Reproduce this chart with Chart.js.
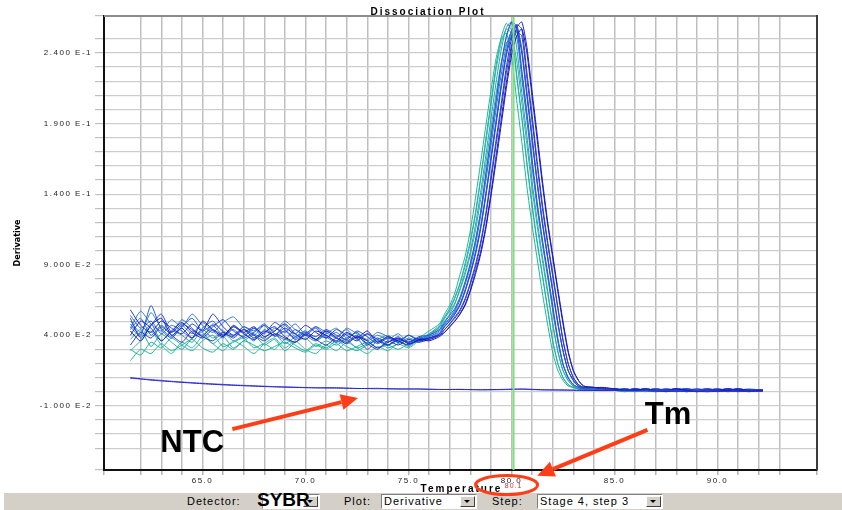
<!DOCTYPE html>
<html>
<head>
<meta charset="utf-8">
<title>Dissociation Plot</title>
<script src="https://cdn.jsdelivr.net/npm/chart.js@4.4.1/dist/chart.umd.min.js"></script>
<style>
  html, body { margin: 0; padding: 0; background: #fff; }
  #wrap { position: relative; width: 842px; height: 510px; overflow: hidden; }
  #bar { position: absolute; left: 4px; top: 493px; width: 838px; height: 17px; background: #d4d0c8; }
  .lbl { position: absolute; top: 495px; font: 11px "Liberation Sans", Arial, sans-serif; letter-spacing: 1px; color: #000; line-height: 13px; }
  .combo { position: absolute; top: 494px; height: 13px; background: #fff; border: 1px solid; border-color: #808080 #fff #fff #808080; }
  .combo .txt { position: absolute; left: 2px; top: 0; font: 11px "Liberation Sans", Arial, sans-serif; letter-spacing: 1px; line-height: 13px; color: #000; white-space: nowrap; }
  .combo .btn { position: absolute; right: 1px; top: 1px; width: 15px; height: 11px; box-sizing: border-box; background: #d4d0c8; border: 1px solid; border-color: #fff #404040 #404040 #fff; }
  .combo .btn:after { content: ""; position: absolute; left: 3px; top: 3px; border-left: 3px solid transparent; border-right: 3px solid transparent; border-top: 3px solid #000; }
  .sybr { position: absolute; left: 257px; top: 490px; font: bold 19px "Liberation Sans", Arial, sans-serif; color: #000; line-height: 20px; text-shadow: 0 0 1px #fff; }
  #plot { position: absolute; left: 0; top: 0; z-index: 2; }
</style>
</head>
<body>
<div id="wrap">
  <div id="bar"></div>
  <span class="lbl" style="left:187px">Detector:</span>
  <div class="combo" style="left:262px;width:56px"><span class="btn"></span></div>
  <span class="sybr">SYBR</span>
  <span class="lbl" style="left:344px">Plot:</span>
  <div class="combo" style="left:381px;width:94px"><span class="txt">Derivative</span><span class="btn"></span></div>
  <span class="lbl" style="left:492px">Step:</span>
  <div class="combo" style="left:537px;width:124px"><span class="txt">Stage 4, step 3</span><span class="btn"></span></div>
  <canvas id="plot" width="842" height="510"></canvas>
</div>
<script>
// temperature steps (deg C) of the melt read-out
const BASE_TEMPS = [61.5, 62, 62.5, 63, 63.5, 64, 64.5, 65, 65.5, 66, 66.5, 67, 67.5, 68, 68.5, 69, 69.5, 70, 70.5, 71, 71.5, 72, 72.5, 73, 73.5, 74, 74.5, 75, 75.5, 76, 76.5];
const MELT_TEMPS = [76.75, 77, 77.25, 77.5, 77.75, 78, 78.25, 78.5, 78.75, 79, 79.25, 79.5, 79.75, 80, 80.25, 80.5, 80.75, 81, 81.25, 81.5, 81.75, 82, 82.25, 82.5, 82.75, 83, 83.25, 83.5];
const TAIL_TEMPS = [84, 84.5, 85, 85.5, 86, 86.5, 87, 87.5, 88, 88.5, 89, 89.5, 90, 90.5, 91, 91.5, 92.2];
const NTC_TEMPS = [61.5, 62.5, 63.5, 64.5, 65.5, 66.5, 67.5, 68.5, 69.5, 70.5, 71.5, 72.5, 73.5, 74.5, 75.5, 76.5, 77.5, 78.5, 79.5, 80.5, 81.5, 82.5, 83.5, 84.5, 85.5, 86.5, 87.5, 88.5, 89.5, 90.5, 91.5, 92.2];

// -dF/dT per well, in units of 1e-3 (baseline / melt / tail)
const WELL_1 = [22, 30, 27, 34, 29, 33, 37, 31, 28, 34, 30, 36, 33, 29, 32, 35, 31, 28, 33, 30, 34, 29, 32, 35, 31, 33, 30, 34, 38, 43, 48,
  55, 61, 70, 83, 96, 114, 137, 162, 188, 213, 236, 250, 254, 238, 207, 177, 145, 118, 94, 70, 48, 28, 15, 8, 4, 3, 2, 2,
  2, 1, 2, 2, 1, 1, 2, 1, 0, 1, 1, 2, 1, 1, 0, 1, 1];
const WELL_2 = [37, 44, 32, 41, 35, 30, 38, 42, 34, 39, 31, 36, 40, 33, 37, 29, 35, 38, 32, 36, 33, 37, 31, 34, 38, 33, 36, 32, 37, 41, 47,
  53, 59, 67, 77, 91, 107, 127, 151, 179, 205, 231, 251, 261, 256, 225, 195, 162, 133, 106, 83, 59, 36, 20, 10, 5, 3, 2, 1,
  1, 2, 1, 1, 2, 1, 0, 1, 2, 1, 1, 0, 1, 2, 1, 1, 1];
const WELL_3 = [46, 39, 48, 36, 43, 40, 35, 44, 38, 42, 36, 40, 45, 37, 41, 34, 39, 43, 36, 40, 35, 38, 42, 34, 37, 40, 35, 38, 36, 41, 45,
  50, 55, 62, 73, 85, 99, 118, 141, 167, 193, 219, 242, 258, 262, 244, 212, 181, 149, 121, 96, 72, 48, 29, 15, 8, 4, 2, 2,
  2, 2, 1, 0, 1, 2, 1, 2, 1, 0, 1, 1, 2, 1, 1, 0, 1];
const WELL_4 = [30, 26, 35, 31, 38, 33, 29, 36, 40, 32, 35, 38, 31, 34, 30, 37, 33, 29, 34, 31, 36, 32, 29, 33, 36, 31, 34, 37, 35, 40, 46,
  52, 57, 63, 72, 83, 97, 114, 136, 161, 186, 211, 233, 247, 251, 235, 205, 175, 144, 117, 93, 70, 48, 28, 15, 8, 4, 3, 2,
  1, 1, 2, 1, 1, 0, 1, 1, 2, 2, 1, 0, 1, 1, 2, 1, 1];
const WELL_5 = [50, 42, 56, 45, 39, 47, 41, 49, 43, 38, 46, 42, 36, 44, 40, 47, 39, 43, 37, 41, 45, 38, 42, 36, 40, 37, 41, 35, 38, 40, 44,
  48, 52, 58, 66, 77, 90, 107, 127, 153, 179, 205, 231, 251, 261, 257, 226, 195, 162, 132, 106, 83, 59, 36, 19, 10, 5, 3, 2,
  2, 1, 1, 2, 1, 2, 1, 0, 1, 1, 2, 1, 0, 1, 1, 2, 1];
const WELL_6 = [44, 52, 40, 47, 42, 51, 45, 39, 48, 43, 40, 46, 41, 38, 45, 42, 48, 40, 36, 43, 39, 44, 37, 41, 35, 39, 36, 40, 37, 39, 43,
  48, 52, 57, 65, 76, 88, 104, 124, 149, 174, 200, 225, 245, 255, 252, 222, 192, 160, 130, 105, 82, 58, 36, 19, 10, 5, 3, 2,
  2, 2, 1, 1, 0, 1, 2, 1, 1, 2, 1, 1, 2, 0, 1, 1, 1];
const WELL_7 = [54, 45, 50, 41, 47, 43, 38, 45, 50, 42, 39, 46, 43, 48, 41, 37, 44, 40, 45, 38, 42, 36, 40, 33, 38, 35, 39, 34, 37, 38, 41,
  46, 50, 55, 62, 72, 84, 99, 117, 140, 166, 192, 218, 241, 256, 260, 243, 212, 181, 149, 121, 96, 72, 49, 29, 15, 8, 4, 3,
  3, 2, 1, 2, 1, 1, 0, 1, 2, 1, 1, 2, 1, 1, 0, 1, 1];
const WELL_8 = [48, 40, 61, 44, 38, 46, 52, 43, 47, 40, 44, 38, 42, 47, 39, 43, 37, 41, 46, 39, 35, 41, 38, 30, 36, 33, 38, 35, 39, 40, 44,
  49, 54, 59, 67, 78, 91, 107, 127, 154, 180, 206, 232, 252, 262, 259, 228, 198, 165, 134, 108, 85, 61, 38, 20, 10, 5, 3, 2,
  2, 1, 2, 1, 1, 2, 1, 1, 0, 1, 2, 1, 1, 2, 1, 0, 1];
const WELL_9 = [52, 38, 47, 55, 42, 48, 44, 40, 46, 51, 43, 39, 45, 41, 49, 44, 38, 42, 39, 44, 40, 37, 43, 39, 34, 38, 35, 40, 36, 38, 41,
  46, 50, 55, 61, 71, 83, 97, 115, 138, 163, 189, 215, 238, 252, 256, 240, 209, 178, 147, 119, 95, 71, 48, 29, 15, 8, 4, 3,
  3, 2, 2, 1, 1, 2, 1, 2, 1, 1, 0, 1, 2, 1, 1, 1, 1];
const WELL_10 = [58, 47, 42, 50, 45, 41, 48, 43, 55, 46, 40, 44, 38, 43, 40, 45, 41, 47, 42, 38, 44, 40, 36, 41, 37, 33, 37, 35, 38, 37, 40,
  44, 48, 53, 58, 66, 77, 90, 106, 126, 152, 178, 204, 230, 250, 260, 257, 226, 196, 163, 133, 107, 84, 60, 37, 20, 10, 5, 3,
  3, 2, 1, 1, 2, 1, 1, 0, 1, 2, 1, 1, 1, 2, 1, 1, 1];
const WELL_11 = [40, 50, 45, 36, 43, 49, 42, 38, 44, 40, 46, 41, 37, 42, 46, 39, 35, 41, 37, 43, 38, 34, 39, 36, 31, 35, 38, 34, 36, 38, 40,
  42, 46, 50, 55, 62, 72, 85, 99, 117, 140, 167, 193, 219, 243, 258, 262, 244, 213, 182, 150, 121, 97, 73, 50, 29, 15, 8, 4,
  3, 2, 2, 1, 2, 1, 1, 1, 2, 1, 0, 1, 1, 2, 1, 1, 1];
const WELL_12 = [33, 42, 38, 46, 40, 35, 43, 39, 36, 42, 38, 44, 40, 36, 41, 38, 35, 40, 37, 33, 38, 35, 39, 34, 30, 36, 33, 37, 35, 37, 40,
  44, 48, 52, 57, 65, 76, 88, 104, 124, 149, 175, 200, 226, 245, 255, 252, 222, 192, 160, 130, 105, 82, 59, 36, 20, 10, 5, 3,
  3, 2, 1, 2, 1, 1, 2, 1, 1, 0, 1, 2, 1, 1, 2, 1, 1];
const WELL_13 = [29, 36, 43, 33, 27, 35, 31, 39, 34, 29, 36, 32, 27, 34, 38, 31, 36, 30, 27, 33, 29, 35, 31, 27, 32, 29, 34, 31, 36, 40, 46,
  52, 58, 66, 76, 89, 105, 125, 150, 176, 202, 228, 247, 257, 254, 223, 194, 161, 131, 105, 82, 59, 36, 20, 10, 5, 3, 2, 1,
  1, 2, 1, 0, 1, 1, 2, 1, 1, 0, 1, 2, 1, 0, 1, 1, 1];
const WELL_14 = [45, 57, 48, 43, 51, 46, 55, 47, 42, 49, 53, 45, 40, 47, 43, 50, 44, 40, 46, 42, 38, 45, 41, 37, 42, 39, 35, 40, 37, 39, 42,
  47, 51, 56, 62, 72, 84, 98, 116, 139, 165, 191, 217, 240, 255, 259, 242, 211, 180, 148, 120, 96, 72, 49, 29, 15, 8, 4, 3,
  2, 2, 1, 1, 2, 1, 0, 1, 1, 2, 1, 1, 0, 1, 2, 1, 1];
const WELL_15 = [43, 36, 47, 52, 40, 45, 38, 50, 44, 39, 47, 42, 46, 39, 43, 48, 41, 37, 43, 40, 36, 42, 38, 43, 35, 39, 36, 33, 37, 36, 39,
  42, 46, 50, 55, 61, 71, 83, 97, 115, 138, 163, 189, 215, 238, 252, 257, 240, 209, 178, 147, 119, 95, 71, 48, 28, 15, 8, 4,
  3, 3, 2, 1, 1, 2, 1, 1, 2, 1, 0, 1, 1, 1, 2, 1, 1];

// no-template controls, units of 1e-3
const NTC_1 = [10.0, 8.2, 7.1, 6.1, 5.2, 4.5, 3.9, 3.4, 3.0, 2.7, 2.5, 2.3, 2.1, 2.0, 1.8, 1.6, 1.5, 1.4, 1.6, 1.9, 1.4, 1.1, 1.0, 0.8, 1.0, 0.6, 0.4, 0.3, 0.0, 0.4, 0.2, 0.3];
const NTC_2 = [9.4, 8.6, 7.4, 6.4, 5.6, 4.8, 4.2, 3.6, 3.2, 2.8, 2.9, 2.2, 2.4, 1.8, 2.0, 1.5, 1.7, 1.3, 1.4, 1.7, 1.2, 1.3, 0.8, 1.1, 0.6, 0.9, 0.7, 0.2, 0.5, 0.1, 0.3, 0.2];

const TM = 80.1;

const X_MIN = 60.22, X_MAX = 94.83;
const Y_MIN = -0.0555, Y_MAX = 0.2662;
const X_LABEL_VALUES = [65, 70, 75, 80, 85, 90];
const X_LABELS = ['65.0', '70.0', '75.0', '80.0', '85.0', '90.0'];
const Y_LABEL_VALUES = [-0.01, 0.04, 0.09, 0.14, 0.19, 0.24];
const Y_LABELS = ['-1.000 E-2', '4.000 E-2', '9.000 E-2', '1.400 E-1', '1.900 E-1', '2.400 E-1'];

const SAMPLE_WELLS = [WELL_1, WELL_13, WELL_2, WELL_3, WELL_4, WELL_5, WELL_6, WELL_14, WELL_7, WELL_8, WELL_9, WELL_10, WELL_11, WELL_12, WELL_15];
const SAMPLE_COLORS = ['#17b897', '#25bfa0', '#22aaa6', '#2b9cb2', '#20b2a2', '#2c88c2', '#2a76ca', '#2f7ad0', '#2b63d3', '#2556db', '#2044dd', '#1c33d5', '#1a22c6', '#3636b2', '#1616ba'];
const NTC_WELLS = [NTC_1, NTC_2];
const NTC_COLORS = ['#2424cc', '#5a5ad6'];

const FONT = '"Liberation Sans", Arial, sans-serif';
const RED = '#ff3d17';

const SAMPLE_TEMPS = BASE_TEMPS.concat(MELT_TEMPS, TAIL_TEMPS);
const toPoints = (temps, vals) => temps.map((t, i) => ({ x: t, y: vals[i] / 1000 }));

function labelFor(values, labels, v) {
    const i = values.findIndex(t => Math.abs(t - v) < 1e-6);
    return i < 0 ? '' : labels[i];
}

function curve(data, color) {
    return { data, borderColor: color, borderWidth: 1, pointRadius: 0, tension: 0.2, fill: false };
}

const datasets = [
    { data: [{ x: TM, y: Y_MIN }, { x: TM, y: Y_MAX }], borderColor: '#7ee07e', borderWidth: 2, pointRadius: 0, tension: 0 }
];
NTC_WELLS.forEach((w, i) => datasets.push(curve(toPoints(NTC_TEMPS, w), NTC_COLORS[i])));
// blue wells end up on top
for (let i = SAMPLE_WELLS.length - 1; i >= 0; i--) {
    datasets.push(curve(toPoints(SAMPLE_TEMPS, SAMPLE_WELLS[i]), SAMPLE_COLORS[i]));
}

function arrow(ctx, x0, y0, x1, y1) {
    const ang = Math.atan2(y1 - y0, x1 - x0);
    const len = 17, half = 8;
    const bx = x1 - len * Math.cos(ang), by = y1 - len * Math.sin(ang);
    ctx.strokeStyle = RED;
    ctx.fillStyle = RED;
    ctx.lineWidth = 4;
    ctx.beginPath();
    ctx.moveTo(x0, y0);
    ctx.lineTo(bx, by);
    ctx.stroke();
    ctx.beginPath();
    ctx.moveTo(x1, y1);
    ctx.lineTo(bx + half * Math.sin(ang), by - half * Math.cos(ang));
    ctx.lineTo(bx - half * Math.sin(ang), by + half * Math.cos(ang));
    ctx.closePath();
    ctx.fill();
}

const spacing = {
    id: 'spacing',
    beforeDraw(chart) {
        chart.ctx.letterSpacing = '1.5px';
    }
};

const decorations = {
    id: 'decorations',
    afterDraw(chart) {
        const { ctx, chartArea: a, scales: { x, y } } = chart;
        ctx.save();

        // frame on the two open sides
        ctx.lineWidth = 2;
        ctx.strokeStyle = '#8c8c8c';
        ctx.beginPath();
        ctx.moveTo(a.left, a.top);
        ctx.lineTo(a.right, a.top);
        ctx.stroke();
        ctx.strokeStyle = '#3c3c3c';
        ctx.beginPath();
        ctx.moveTo(a.right, a.top - 1);
        ctx.lineTo(a.right, a.bottom);
        ctx.stroke();

        // titles
        ctx.fillStyle = '#000';
        ctx.textAlign = 'center';
        ctx.textBaseline = 'alphabetic';
        ctx.font = 'bold 10px ' + FONT;
        ctx.letterSpacing = '2px';
        ctx.fillText('Dissociation Plot', 428, 15);
        ctx.fillText('Temperature', (a.left + a.right) / 2 + 1, 492);

        ctx.save();
        ctx.translate(18, (a.top + a.bottom) / 2);
        ctx.rotate(-Math.PI / 2);
        ctx.letterSpacing = '0px';
        ctx.font = 'bold 9px "Liberation Sans Narrow", "DejaVu Sans Condensed", ' + FONT;
        ctx.textBaseline = 'middle';
        ctx.fillText('Derivative', 0, 0);
        ctx.restore();

        // Tm read-out under the axis
        const tx = x.getPixelForValue(TM);
        ctx.letterSpacing = '1px';
        ctx.font = '7px ' + FONT;
        ctx.fillStyle = '#cc3333';
        ctx.fillText(TM.toFixed(1), tx, 488);

        ctx.letterSpacing = '0px';
        ctx.strokeStyle = RED;
        ctx.lineWidth = 3;
        ctx.beginPath();
        ctx.ellipse(tx - 7, 485, 31, 9.5, 0, 0, Math.PI * 2);
        ctx.stroke();

        // callouts
        arrow(ctx, x.getPixelForValue(66.45), y.getPixelForValue(-0.0265), x.getPixelForValue(72.55), y.getPixelForValue(-0.0045));
        arrow(ctx, x.getPixelForValue(86.6), y.getPixelForValue(-0.027), x.getPixelForValue(81.25), y.getPixelForValue(-0.0595));

        ctx.fillStyle = '#000';
        ctx.font = 'bold 31px ' + FONT;
        ctx.textBaseline = 'middle';
        ctx.fillText('NTC', x.getPixelForValue(64.5), y.getPixelForValue(-0.0365));
        ctx.fillText('Tm', x.getPixelForValue(87.6), y.getPixelForValue(-0.0165));

        ctx.restore();
    }
};

new Chart(document.getElementById('plot'), {
    type: 'line',
    data: { datasets },
    options: {
        responsive: false,
        devicePixelRatio: 1,
        animation: false,
        events: [],
        layout: { padding: { left: 12, right: 25, top: 16, bottom: 17 } },
        plugins: { legend: { display: false }, tooltip: { enabled: false }, title: { display: false } },
        scales: {
            x: {
                type: 'linear',
                min: X_MIN,
                max: X_MAX,
                afterFit: s => { s.height = 23; },
                border: { color: '#111', width: 2 },
                grid: { color: '#bfbfbf', lineWidth: 1.5, tickLength: 5, tickColor: '#b4b4b4' },
                ticks: {
                    stepSize: 1,
                    autoSkip: false,
                    maxRotation: 0,
                    padding: 1,
                    color: '#222',
                    font: { family: FONT, size: 8 },
                    callback: v => labelFor(X_LABEL_VALUES, X_LABELS, v)
                }
            },
            y: {
                type: 'linear',
                min: Y_MIN,
                max: Y_MAX,
                afterFit: s => { s.width = 92; },
                border: { color: '#111', width: 2 },
                grid: { color: '#cdcdcd', lineWidth: 1.2, tickLength: 9, tickColor: '#c0c0c0' },
                ticks: {
                    stepSize: 0.01,
                    autoSkip: false,
                    padding: 3,
                    color: '#222',
                    font: { family: FONT, size: 8 },
                    callback: v => labelFor(Y_LABEL_VALUES, Y_LABELS, v)
                }
            }
        }
    },
    plugins: [spacing, decorations]
});
</script>
</body>
</html>
